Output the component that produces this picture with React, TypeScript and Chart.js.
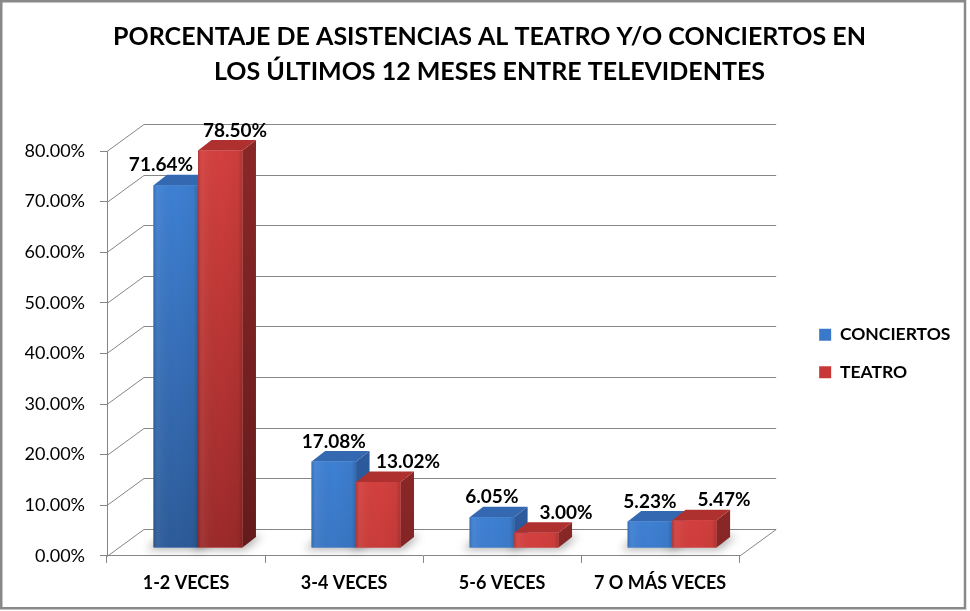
import React, { useEffect, useRef } from 'react';
import { Chart, registerables } from 'chart.js';

Chart.register(...registerables);

// ---------- data ----------
const categories = ['1-2 VECES', '3-4 VECES', '5-6 VECES', '7 O MÁS VECES'];
const seriesNames = ['CONCIERTOS', 'TEATRO'];
const conciertos = [71.64, 17.08, 6.05, 5.23];
const teatro = [78.5, 13.02, 3.0, 5.47];
const titleLines = [
  'PORCENTAJE DE ASISTENCIAS AL TEATRO Y/O CONCIERTOS EN',
  'LOS ÚLTIMOS 12 MESES ENTRE TELEVIDENTES',
];
const yMin = 0;
const yMax = 80;
const yStep = 10;

// ---------- style ----------
const FONT = 'Lato, "Open Sans", sans-serif';
const GRID = '#868686';
const FLOOR_DEPTH = { dx: 37, dy: -27 };
const BAR_SHIFT = { dx: 12, dy: -8 };
const BAR_DEPTH = { dx: 13.5, dy: -10.5 };
const seriesColors = ['#3A78C9', '#C83836'];
const palette = [
  { light: '#3E80D3', dark: '#2D5B99', top: '#3469B2', sideLight: '#2C5A9C', sideDark: '#21457A' },
  { light: '#D3403E', dark: '#9C2A2A', top: '#AE3130', sideLight: '#892727', sideDark: '#641B1B' },
];

function hexToRgb(h: string) {
  const n = parseInt(h.slice(1), 16);
  return [(n >> 16) & 255, (n >> 8) & 255, n & 255];
}
function mix(a: string, b: string, t: number) {
  const A = hexToRgb(a);
  const B = hexToRgb(b);
  const c = A.map((v, i) => Math.round(v + (B[i] - v) * t));
  return `rgb(${c[0]},${c[1]},${c[2]})`;
}
const fmtPct = (v: number) => v.toFixed(2) + '%';

function barGeom(chart: any, d: number, i: number) {
  const el = chart.getDatasetMeta(d).data[i];
  const p = el.getProps(['x', 'y', 'base', 'width'], true);
  const left = p.x - p.width / 2 + BAR_SHIFT.dx;
  const right = p.x + p.width / 2 + BAR_SHIFT.dx;
  const top = p.y + BAR_SHIFT.dy;
  const bottom = p.base + BAR_SHIFT.dy;
  return { left, right, top, bottom, cx: p.x + BAR_SHIFT.dx };
}

function poly(ctx: CanvasRenderingContext2D, pts: number[][]) {
  ctx.beginPath();
  ctx.moveTo(pts[0][0], pts[0][1]);
  for (let k = 1; k < pts.length; k++) ctx.lineTo(pts[k][0], pts[k][1]);
  ctx.closePath();
}

const threeD = {
  id: 'threeD',
  beforeDraw(chart: any) {
    const { ctx, width, height } = chart;
    ctx.save();
    ctx.fillStyle = '#ffffff';
    ctx.fillRect(0, 0, width, height);
    ctx.restore();
  },
  beforeDatasetsDraw(chart: any) {
    const { ctx, chartArea: ca, scales } = chart;
    const y = scales.y;
    ctx.save();
    ctx.strokeStyle = GRID;
    ctx.lineWidth = 1;
    y.ticks.forEach((t: any) => {
      const py = Math.round(y.getPixelForValue(t.value)) + 0.5;
      ctx.beginPath();
      ctx.moveTo(ca.left, py);
      ctx.lineTo(ca.left + FLOOR_DEPTH.dx, py + FLOOR_DEPTH.dy);
      ctx.lineTo(ca.right + FLOOR_DEPTH.dx, py + FLOOR_DEPTH.dy);
      ctx.stroke();
    });
    const pb = Math.round(y.getPixelForValue(yMin)) + 0.5;
    ctx.beginPath();
    ctx.moveTo(ca.right, pb);
    ctx.lineTo(ca.right + FLOOR_DEPTH.dx, pb + FLOOR_DEPTH.dy);
    ctx.stroke();

    // soft floor shadows
    ctx.filter = 'blur(4px)';
    ctx.fillStyle = 'rgba(0,0,0,0.32)';
    categories.forEach((_, i) => {
      chart.data.datasets.forEach((_ds: any, d: number) => {
        const g = barGeom(chart, d, i);
        poly(ctx, [
          [g.left - 7, g.bottom + 2],
          [g.right + 3, g.bottom + 2],
          [g.right + BAR_DEPTH.dx + 6, g.bottom + BAR_DEPTH.dy - 1],
          [g.left + BAR_DEPTH.dx - 4, g.bottom + BAR_DEPTH.dy - 1],
        ]);
        ctx.fill();
      });
    });
    ctx.filter = 'none';
    ctx.restore();
    ctx.save();
    ctx.translate(BAR_SHIFT.dx, BAR_SHIFT.dy);
  },
  afterDatasetsDraw(chart: any) {
    const { ctx } = chart;
    ctx.restore();
    ctx.save();
    categories.forEach((_, i) => {
      chart.data.datasets.forEach((_ds: any, d: number) => {
        const g = barGeom(chart, d, i);
        const c = palette[d];
        const h = g.bottom - g.top;
        const k = Math.min(1, h / 360);
        // side face
        const sg = ctx.createLinearGradient(0, g.top, 0, g.bottom);
        sg.addColorStop(0, c.sideLight);
        sg.addColorStop(1, mix(c.sideLight, c.sideDark, k));
        ctx.fillStyle = sg;
        poly(ctx, [
          [g.right, g.top],
          [g.right + BAR_DEPTH.dx, g.top + BAR_DEPTH.dy],
          [g.right + BAR_DEPTH.dx, g.bottom + BAR_DEPTH.dy],
          [g.right, g.bottom],
        ]);
        ctx.fill();
        // top face
        ctx.fillStyle = c.top;
        poly(ctx, [
          [g.left, g.top],
          [g.left + BAR_DEPTH.dx, g.top + BAR_DEPTH.dy],
          [g.right + BAR_DEPTH.dx, g.top + BAR_DEPTH.dy],
          [g.right, g.top],
        ]);
        ctx.fill();
        // front face
        const fg = ctx.createLinearGradient(0, g.top, 0, g.bottom);
        fg.addColorStop(0, c.light);
        fg.addColorStop(1, mix(c.light, c.dark, k));
        ctx.fillStyle = fg;
        ctx.fillRect(g.left, g.top, g.right - g.left, h);
        const hg = ctx.createLinearGradient(g.left, 0, g.right, 0);
        hg.addColorStop(0, 'rgba(0,0,0,0.14)');
        hg.addColorStop(0.1, 'rgba(255,255,255,0.05)');
        hg.addColorStop(0.5, 'rgba(0,0,0,0)');
        hg.addColorStop(0.9, 'rgba(0,0,0,0.04)');
        hg.addColorStop(1, 'rgba(0,0,0,0.18)');
        ctx.fillStyle = hg;
        ctx.fillRect(g.left, g.top, g.right - g.left, h);
      });
    });

    // data labels
    ctx.font = `bold 19px ${FONT}`;
    ctx.textAlign = 'center';
    ctx.textBaseline = 'middle';
    ctx.fillStyle = '#000000';
    let widest = 0;
    chart.data.datasets.forEach((ds: any) =>
      ds.data.forEach((v: number) => {
        widest = Math.max(widest, ctx.measureText(fmtPct(v)).width);
      })
    );
    const minSep = widest + 10;
    categories.forEach((_, i) => {
      const geoms = chart.data.datasets.map((_ds: any, d: number) => barGeom(chart, d, i));
      const pos = chart.data.datasets.map((ds: any, d: number) => ({
        x: geoms[d].cx,
        y: geoms[d].top - 20,
        text: fmtPct(ds.data[i]),
      }));
      const gap = pos[1].x - pos[0].x;
      if (gap < minSep) {
        const deficit = minSep - gap;
        // when the second bar rises above the first label, spread both labels
        if (geoms[1].top < pos[0].y) {
          pos[0].x -= deficit / 2;
          pos[1].x += deficit / 2;
        } else {
          pos[1].x += deficit;
        }
      }
      pos.forEach((p: any) => ctx.fillText(p.text, p.x, p.y));
    });
    ctx.restore();
  },
  afterDraw(chart: any) {
    const { ctx } = chart;
    ctx.save();
    ctx.strokeStyle = '#898989';
    ctx.lineWidth = 2.5;
    ctx.strokeRect(1.25, 1.25, 963.75, 607);
    ctx.restore();
  },
};

export default function App() {
  const ref = useRef<HTMLCanvasElement>(null);
  useEffect(() => {
    document.body.style.margin = '0';
    const chart = new Chart(ref.current as HTMLCanvasElement, {
      type: 'bar',
      data: {
        labels: categories,
        datasets: [
          { label: seriesNames[0], data: conciertos, backgroundColor: seriesColors[0], borderWidth: 0 },
          { label: seriesNames[1], data: teatro, backgroundColor: seriesColors[1], borderWidth: 0 },
        ],
      },
      options: {
        responsive: false,
        animation: false,
        datasets: { bar: { categoryPercentage: 0.5625, barPercentage: 1 } },
        layout: { padding: { left: 25, right: 16, top: 0, bottom: 8.5 } },
        plugins: {
          title: {
            display: true,
            text: titleLines,
            color: '#000000',
            font: { family: FONT, size: 25, weight: 'bold', lineHeight: 1.4 },
            padding: { top: 19, bottom: 62 },
          },
          legend: {
            position: 'right',
            fullSize: false,
            labels: {
              boxWidth: 12,
              boxHeight: 12,
              padding: 20,
              color: '#000000',
              font: { family: FONT, size: 17.5, weight: 'bold' },
            },
          },
          tooltip: { enabled: false },
        },
        scales: {
          x: {
            grid: { drawOnChartArea: false, tickLength: 7, color: GRID, offset: true },
            border: { color: GRID },
            ticks: { color: '#000000', padding: 9, font: { family: FONT, size: 18, weight: 'bold' } },
          },
          y: {
            min: yMin,
            max: yMax,
            grid: { drawOnChartArea: false, tickLength: 7, color: GRID },
            border: { color: GRID },
            ticks: {
              stepSize: yStep,
              padding: 15,
              color: '#000000',
              font: { family: FONT, size: 18 },
              callback: (v: any) => fmtPct(Number(v)),
            },
            afterFit: (s: any) => {
              s.width = 82;
            },
          },
          y2: {
            type: 'linear',
            position: 'right',
            display: true,
            grid: { display: false },
            border: { display: false },
            ticks: { display: false },
            afterFit: (s: any) => {
              s.width = 60;
            },
          },
        },
      } as any,
      plugins: [threeD],
    });
    return () => chart.destroy();
  }, []);
  return (
    <div style={{ width: 970, height: 611, position: 'relative', background: '#ffffff' }}>
      <canvas ref={ref} width={970} height={611} style={{ display: 'block' }} />
    </div>
  );
}
